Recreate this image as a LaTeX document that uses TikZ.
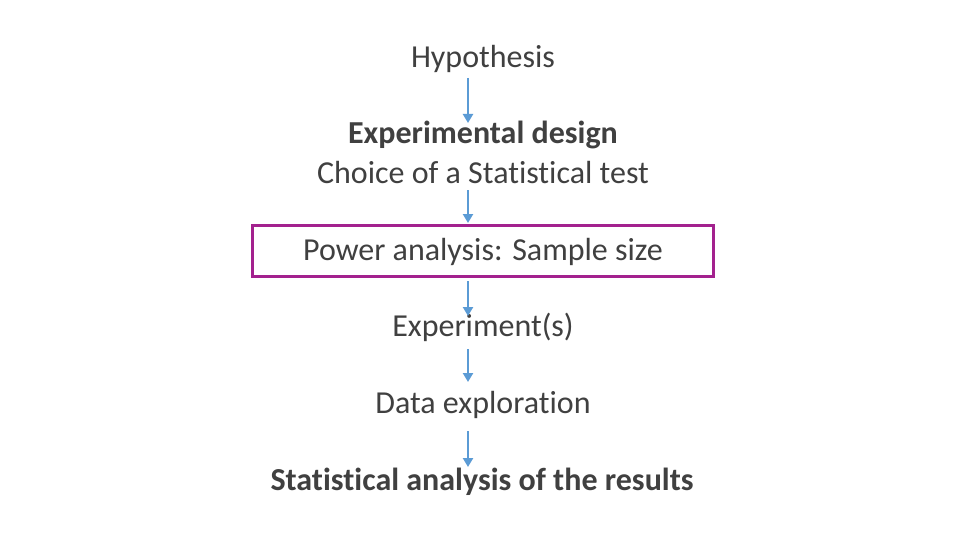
\documentclass[tikz,border=0pt]{standalone}
\usepackage{fontspec}
\setmainfont[Ligatures={NoCommon}]{Carlito}
\usetikzlibrary{arrows.meta}
\definecolor{txt}{HTML}{404040}
\definecolor{arr}{HTML}{5B9BD5}
\definecolor{mag}{HTML}{A3218E}
\tikzset{
  lbl/.style={anchor=base, inner sep=0pt, text=txt, font=\fontsize{32}{38}\selectfont},
  flow/.style={draw=arr, line width=2.6pt, -{Triangle[length=9pt,width=10pt]}},
  hilite/.style={draw=mag, line width=3pt}
}
\begin{document}
\begin{tikzpicture}[x=1pt,y=-1pt]
\useasboundingbox (0,0) rectangle (960,540);
\fill[white] (0,0) rectangle (960,540);
\node[lbl] (hyp) at (483,68) {Hypothesis};
\node[lbl] (exp) at (483,144) {\bfseries Experimental design};
\node[lbl] (cho) at (483,183) {Choice of a Statistical test};
\node[lbl] (pow) at (483,260) {Power analysis: Sample size};
\node[lbl] (ex) at (483,336) {Experiment(s)};
\node[lbl] (dat) at (483,413) {Data exploration};
\node[lbl] (sta) at (482,490) {\bfseries Statistical analysis of the results};
\node[hilite, minimum width=461pt, minimum height=51pt, inner sep=0pt] (box) at (482.5,250.5) {};
\coordinate (a1s) at (468,78); \coordinate (a1e) at (468,123);
\coordinate (a2s) at (468,190); \coordinate (a2e) at (468,223);
\coordinate (a3s) at (468,281); \coordinate (a3e) at (468,316);
\coordinate (a4s) at (468,349); \coordinate (a4e) at (468,382);
\coordinate (a5s) at (468,431); \coordinate (a5e) at (468,467);
\draw[flow] (a1s) -- (a1e);
\draw[flow] (a2s) -- (a2e);
\draw[flow] (a3s) -- (a3e);
\draw[flow] (a4s) -- (a4e);
\draw[flow] (a5s) -- (a5e);
\end{tikzpicture}
\end{document}
